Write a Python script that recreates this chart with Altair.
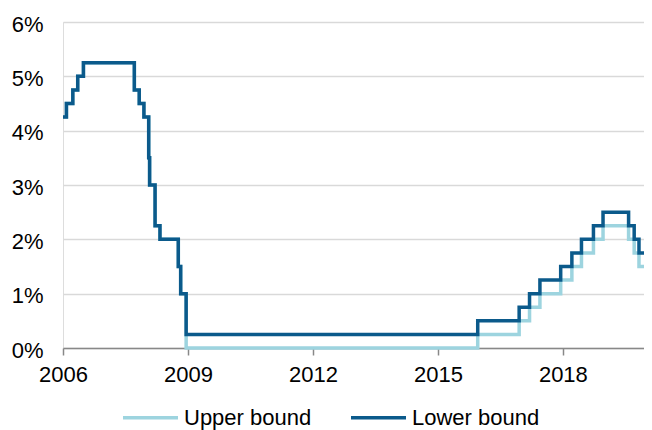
import altair as alt
import pandas as pd

# Dates where the target range changed
dates = ["2006-01-01", "2006-01-31", "2006-03-28", "2006-05-10", "2006-06-29",
         "2007-09-18", "2007-10-31", "2007-12-11", "2008-01-22", "2008-01-30",
         "2008-03-18", "2008-04-30", "2008-10-08", "2008-10-29", "2008-12-16",
         "2015-12-16", "2016-12-14", "2017-03-15", "2017-06-14", "2017-12-13",
         "2018-03-21", "2018-06-13", "2018-09-26", "2018-12-19", "2019-07-31",
         "2019-09-18", "2019-10-30", "2020-02-12", "2020-02-20"]

# Dark line (legend: "Lower bound")
lower_bound_series = [4.25, 4.50, 4.75, 5.00, 5.25,
                      4.75, 4.50, 4.25, 3.50, 3.00,
                      2.25, 2.00, 1.50, 1.00, 0.25,
                      0.50, 0.75, 1.00, 1.25, 1.50,
                      1.75, 2.00, 2.25, 2.50, 2.25,
                      2.00, 1.75, 1.25, 1.25]

# Light line (legend: "Upper bound")
upper_bound_series = [4.25, 4.50, 4.75, 5.00, 5.25,
                      4.75, 4.50, 4.25, 3.50, 3.00,
                      2.25, 2.00, 1.50, 1.00, 0.00,
                      0.25, 0.50, 0.75, 1.00, 1.25,
                      1.50, 1.75, 2.00, 2.25, 2.00,
                      1.75, 1.50, 1.00, 1.00]

series_names = ["Upper bound", "Lower bound"]
series_colors = ["#9dd4df", "#0b5a8b"]
year_ticks = [2006, 2009, 2012, 2015, 2018]
pct_ticks = [0, 1, 2, 3, 4, 5, 6]

d = pd.to_datetime(pd.Series(dates))
days_in_year = d.dt.is_leap_year.map({True: 366, False: 365})
year_frac = d.dt.year + (d.dt.dayofyear - 1) / days_in_year

df = pd.concat([
    pd.DataFrame({"t": year_frac, "rate": upper_bound_series, "series": "Upper bound"}),
    pd.DataFrame({"t": year_frac, "rate": lower_bound_series, "series": "Lower bound"}),
])

FONT = "Liberation Sans"

x_enc = alt.X("t:Q",
              scale=alt.Scale(domain=[2006, 2020.14], nice=False, zero=False),
              axis=alt.Axis(values=year_ticks, format="d", title=None, grid=False,
                            labelFontSize=22, labelColor="#000000", labelFont=FONT,
                            labelFlush=False, labelPadding=9, tickSize=7,
                            tickColor="#888888", tickWidth=1.5,
                            domainColor="#888888", domainWidth=1.5))
y_enc = alt.Y("rate:Q",
              scale=alt.Scale(domain=[0, 6], nice=False),
              axis=alt.Axis(values=pct_ticks, labelExpr="datum.value + '%'", title=None,
                            grid=True, gridColor="#d9d9d9", gridWidth=1.5,
                            domain=False, ticks=False, labelFontSize=22,
                            labelColor="#000000", labelFont=FONT, labelPadding=20,
                            labelOffset=2))
color_enc = alt.Color("series:N",
                      scale=alt.Scale(domain=series_names, range=series_colors),
                      legend=alt.Legend(title=None, orient="none", direction="horizontal",
                                        columns=2, legendX=58, legendY=366,
                                        symbolType="stroke", symbolSize=3025,
                                        symbolStrokeWidth=3.5, labelFontSize=22,
                                        labelFont=FONT, labelColor="#000000",
                                        labelOffset=4, columnPadding=32))

base = alt.Chart(df).mark_line(interpolate="step-after", strokeWidth=3.5)

light = base.encode(x=x_enc, y=y_enc, color=color_enc).transform_filter(
    alt.datum.series == "Upper bound")
dark = base.encode(x=x_enc, y=y_enc, color=color_enc).transform_filter(
    alt.datum.series == "Lower bound")

chart = alt.layer(light, dark).properties(
    width=589, height=326,
    autosize=alt.AutoSizeParams(type="none"),
    padding={"left": 55, "top": 14, "right": -8, "bottom": 82},
).configure_view(stroke=None).configure(background="white")

chart.save("out.html", embed_options={"renderer": "svg", "actions": False})
